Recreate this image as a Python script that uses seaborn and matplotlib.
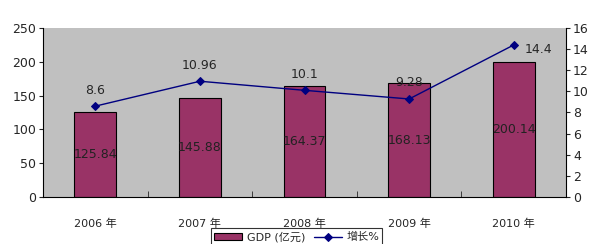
import matplotlib
matplotlib.use("Agg")
import matplotlib.pyplot as plt
import seaborn as sns
import pandas as pd
import numpy as np

years = ["2006 年", "2007 年", "2008 年", "2009 年", "2010 年"]
gdp = [125.84, 145.88, 164.37, 168.13, 200.14]
growth = [8.6, 10.96, 10.1, 9.28, 14.4]

sns.set_style("white")
plt.rcParams['font.family'] = ['DejaVu Sans', 'Noto Sans CJK SC']

df = pd.DataFrame({"year": years, "gdp": gdp, "growth": growth})

fig = plt.figure(figsize=(5.91, 2.44), dpi=100)
ax = fig.add_axes([0.0728, 0.193, 0.885, 0.692])
ax.set_facecolor("#C0C0C0")

sns.barplot(data=df, x="year", y="gdp", color="#993366", width=0.4,
            edgecolor="black", linewidth=0.8, saturation=1, ax=ax, label="GDP (亿元)")
if ax.get_legend() is not None:
    ax.get_legend().remove()
ax.set_ylim(0, 250)
ax.set_yticks(range(0, 251, 50))
ax.set_xlim(-0.5, 4.5)
ax.set_xlabel("")
ax.set_ylabel("")
for i, v in enumerate(gdp):
    ax.text(i, v / 2, f"{v:.2f}", ha="center", va="center", fontsize=9, color="#222222")

ax2 = ax.twinx()
sns.lineplot(x=np.arange(len(years)), y=growth, ax=ax2, color="#000080",
             marker="D", markersize=4, markeredgecolor="#000080", linewidth=1,
             label="增长%", legend=False)
ax2.set_ylim(0, 16)
ax2.set_yticks(range(0, 17, 2))
ax2.set_xlim(-0.5, 4.5)
for i, v in enumerate(growth):
    lbl = f"{v:g}"
    if i == 4:
        ax2.text(i + 0.1, v - 0.4, lbl, ha="left", va="center", fontsize=9)
    else:
        ax2.text(i, v + 0.9, lbl, ha="center", va="bottom", fontsize=9)

for a in (ax, ax2):
    for s in a.spines.values():
        s.set_visible(False)
ax.spines["left"].set_visible(True)
ax.spines["bottom"].set_visible(True)
ax2.spines["right"].set_visible(True)
for s in ("left", "bottom"):
    ax.spines[s].set_color("black")
ax2.spines["right"].set_color("black")

ax.tick_params(axis="y", left=True, length=3, labelsize=9, pad=2)
ax.set_xticks(range(5))
ax.set_xticklabels(years, fontsize=8)
ax.tick_params(axis="x", bottom=False, pad=12)
ax.set_xticks([0.5, 1.5, 2.5, 3.5], minor=True)
ax.tick_params(axis="x", which="minor", bottom=True, direction="in", length=4)
ax2.tick_params(axis="y", right=True, length=3, labelsize=9, pad=2)

h1, l1 = ax.get_legend_handles_labels()
h2, l2 = ax2.get_legend_handles_labels()
leg = fig.legend(h1 + h2, l1 + l2, loc="lower center", bbox_to_anchor=(0.502, -0.03),
                 ncol=2, fontsize=8, frameon=True, fancybox=False, edgecolor="black",
                 handlelength=2.5, handletextpad=0.4, columnspacing=0.8, borderpad=0.3)
leg.get_frame().set_linewidth(0.8)

fig.savefig("out.png", dpi=100)
